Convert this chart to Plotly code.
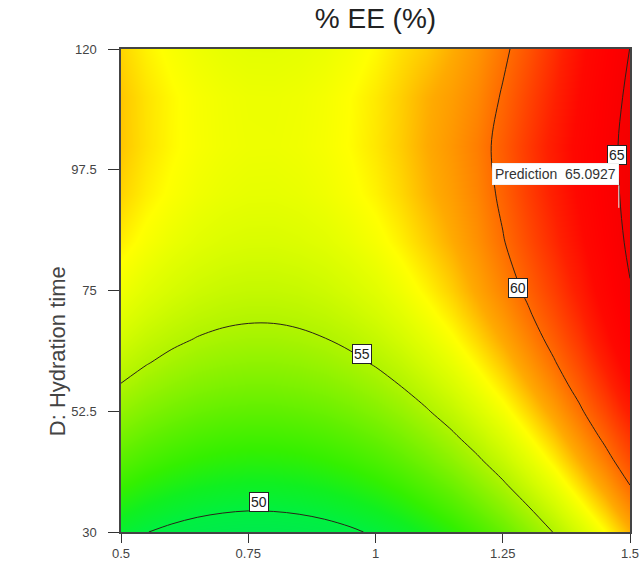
import plotly.graph_objects as go

# ---- data ----
x_vals = [0.5, 0.55, 0.6, 0.65, 0.7, 0.75, 0.8, 0.85, 0.9, 0.95, 1.0,
          1.05, 1.1, 1.15, 1.2, 1.25, 1.3, 1.35, 1.4, 1.45, 1.5]
y_vals = [30, 34.5, 39, 43.5, 48, 52.5, 57, 61.5, 66, 70.5, 75, 84, 93, 102, 111, 120]  # D: Hydration time
ee_grid = [
    [50.44, 50.03, 49.71, 49.47, 49.31, 49.24, 49.26, 49.36, 49.54, 49.81, 50.17, 50.61, 51.14, 51.75, 52.44, 53.22, 54.09, 55.04, 56.07, 57.19, 58.40],
    [51.32, 50.91, 50.58, 50.34, 50.19, 50.11, 50.13, 50.23, 50.41, 50.68, 51.03, 51.47, 52.00, 52.61, 53.30, 54.08, 54.94, 55.89, 56.93, 58.04, 59.25],
    [52.15, 51.73, 51.41, 51.16, 51.01, 50.93, 50.95, 51.04, 51.23, 51.49, 51.85, 52.28, 52.81, 53.41, 54.11, 54.88, 55.75, 56.69, 57.73, 58.84, 60.05],
    [52.92, 52.50, 52.17, 51.93, 51.77, 51.70, 51.71, 51.80, 51.99, 52.25, 52.60, 53.04, 53.56, 54.17, 54.86, 55.63, 56.49, 57.44, 58.47, 59.59, 60.79],
    [53.64, 53.22, 52.89, 52.64, 52.48, 52.41, 52.42, 52.51, 52.69, 52.96, 53.31, 53.74, 54.26, 54.86, 55.55, 56.33, 57.19, 58.13, 59.16, 60.28, 61.48],
    [54.30, 53.88, 53.55, 53.30, 53.14, 53.07, 53.07, 53.17, 53.34, 53.61, 53.96, 54.39, 54.91, 55.51, 56.20, 56.97, 57.83, 58.77, 59.80, 60.96, 62.20],
    [54.91, 54.49, 54.16, 53.91, 53.75, 53.67, 53.68, 53.77, 53.94, 54.20, 54.55, 54.98, 55.50, 56.10, 56.79, 57.56, 58.42, 59.36, 60.38, 61.59, 62.90],
    [55.47, 55.05, 54.71, 54.46, 54.30, 54.22, 54.22, 54.31, 54.49, 54.75, 55.09, 55.52, 56.04, 56.64, 57.32, 58.09, 58.95, 59.89, 60.91, 62.16, 63.50],
    [55.97, 55.55, 55.22, 54.96, 54.80, 54.72, 54.72, 54.81, 54.98, 55.24, 55.58, 56.01, 56.53, 57.12, 57.81, 58.58, 59.43, 60.37, 61.39, 62.70, 64.10],
    [56.42, 56.00, 55.66, 55.41, 55.24, 55.16, 55.16, 55.25, 55.42, 55.68, 56.02, 56.45, 56.96, 57.55, 58.24, 59.00, 59.86, 60.79, 61.81, 63.12, 64.50],
    [56.82, 56.40, 56.06, 55.80, 55.63, 55.55, 55.55, 55.63, 55.80, 56.06, 56.40, 56.83, 57.34, 57.93, 58.61, 59.38, 60.23, 61.16, 62.18, 63.50, 64.90],
    [57.45, 57.03, 56.68, 56.43, 56.25, 56.17, 56.16, 56.25, 56.41, 56.67, 57.00, 57.43, 57.93, 58.48, 59.10, 59.92, 60.81, 61.75, 62.76, 63.99, 65.30],
    [57.87, 57.44, 57.10, 56.83, 56.66, 56.57, 56.56, 56.64, 56.81, 57.06, 57.39, 57.81, 58.32, 58.80, 59.38, 60.24, 61.18, 62.11, 63.13, 64.28, 65.50],
    [58.08, 57.64, 57.29, 57.03, 56.85, 56.76, 56.75, 56.83, 56.99, 57.23, 57.57, 57.98, 58.48, 58.97, 59.54, 60.38, 61.30, 62.25, 63.28, 64.37, 65.56],
    [58.07, 57.63, 57.28, 57.01, 56.83, 56.73, 56.72, 56.79, 56.95, 57.20, 57.53, 57.94, 58.40, 58.80, 59.30, 60.11, 61.00, 61.95, 63.00, 64.14, 65.35],
    [57.84, 57.40, 57.05, 56.78, 56.59, 56.49, 56.48, 56.55, 56.70, 56.94, 57.27, 57.68, 58.00, 58.46, 59.00, 59.76, 60.60, 61.61, 62.70, 63.82, 65.02],
]
assert len(ee_grid) == len(y_vals) and all(len(r) == len(x_vals) for r in ee_grid)

x_ticks = [0.5, 0.75, 1, 1.25, 1.5]
x_tick_text = ["0.5", "0.75", "1", "1.25", "1.5"]
y_ticks = [30, 52.5, 75, 97.5, 120]
y_tick_text = ["30", "52.5", "75", "97.5", "120"]

contour_levels = [50, 55, 60, 65]
label_x = [0.772, 0.9725, 1.279, 1.4735]
label_y = [35.6, 63.2, 75.5, 100.3]
label_text = ["50", "55", "60", "65"]

pred_x = [1.478]
pred_y = [90.4]
pred_value = [65.0927]

title_text = "% EE (%)"
y_title = "D: Hydration time"

# ---- colours ----
zmin, zmax = 49.0, 66.0
stops = [
    (49.0, "#00e850"), (50.0, "#00f040"), (51.0, "#10f020"), (52.0, "#34f000"),
    (53.0, "#5cf000"), (54.0, "#86f200"), (55.0, "#b0f400"), (56.0, "#d4fc00"),
    (56.6, "#e8ff00"), (57.2, "#ffff00"), (57.8, "#ffd800"), (58.5, "#ffaa00"),
    (59.3, "#ff8800"), (60.0, "#ff6a00"), (61.0, "#ff4400"), (62.0, "#ff2000"),
    (63.0, "#ff0800"), (64.0, "#ff0000"), (66.0, "#f00000"),
]
colorscale = [[(v - zmin) / (zmax - zmin), c] for v, c in stops]

fig = go.Figure()
fig.add_trace(go.Heatmap(
    x=x_vals, y=y_vals, z=ee_grid, zsmooth="best",
    colorscale=colorscale, zmin=zmin, zmax=zmax, showscale=False,
    hoverinfo="skip",
))
fig.add_trace(go.Contour(
    x=x_vals, y=y_vals, z=ee_grid,
    contours=dict(coloring="none", start=contour_levels[0], end=contour_levels[-1],
                  size=contour_levels[1] - contour_levels[0]),
    line=dict(color="#2a2218", width=1, smoothing=1.0),
    showscale=False, hoverinfo="skip",
))

# prediction flag line
fig.add_trace(go.Scatter(
    x=[pred_x[0], pred_x[0]], y=[pred_y[0], pred_y[0] + 4.2],
    mode="lines", line=dict(color="#e8e8e8", width=1), hoverinfo="skip",
    showlegend=False,
))

annotations = []
for lx, ly, lt in zip(label_x, label_y, label_text):
    annotations.append(dict(
        x=lx, y=ly, xref="x", yref="y", text=lt, showarrow=False,
        font=dict(family="Liberation Sans, Arial", size=14, color="#222"),
        bgcolor="white", bordercolor="#222", borderwidth=1, borderpad=1,
    ))
annotations.append(dict(
    x=pred_x[0], y=pred_y[0] + 4.2, xref="x", yref="y",
    text=f"Prediction  {pred_value[0]:.4f}", showarrow=False,
    xanchor="right", yanchor="bottom",
    font=dict(family="Liberation Sans, Arial", size=14, color="#333"),
    bgcolor="white", bordercolor="#f0f0f0", borderwidth=1, borderpad=2,
))
annotations.append(dict(
    x=(57 - 121) / 509, y=(531.7 - 351) / 482.7, xref="paper", yref="paper",
    text=y_title, showarrow=False,
    textangle=-90, xanchor="center", yanchor="middle",
    font=dict(family="Liberation Sans, Arial", size=22, color="#444"),
))
fig.update_layout(annotations=annotations)

fig.update_layout(
    width=639, height=568,
    margin=dict(l=121, r=9, t=49, b=36, autoexpand=False),
    paper_bgcolor="white", plot_bgcolor="white",
    showlegend=False,
    title=dict(text=title_text, x=0.5, xref="paper", xanchor="center",
               y=1 - 18 / 568, yref="container", yanchor="middle",
               font=dict(family="Liberation Sans, Arial", size=28, color="#222")),
    xaxis=dict(range=[0.5, 1.5], tickvals=x_ticks, ticktext=x_tick_text, automargin=False,
               ticklabeloverflow="allow",
               ticks="outside", ticklen=9, tickcolor="#333", showgrid=False,
               zeroline=False, showline=True, linecolor="#444", linewidth=1.5,
               mirror=True, tickfont=dict(family="Liberation Sans, Arial", size=13, color="#444")),
    yaxis=dict(range=[30, 120], tickvals=y_ticks, ticktext=y_tick_text, automargin=False,
               ticklabeloverflow="allow",
               ticks="outside", ticklen=11, tickcolor="#333", showgrid=False,
               zeroline=False, showline=True, linecolor="#444", linewidth=1.5,
               mirror=True, ticklabelstandoff=9,
               tickfont=dict(family="Liberation Sans, Arial", size=13, color="#444")),
)

fig.write_html("out.html")
